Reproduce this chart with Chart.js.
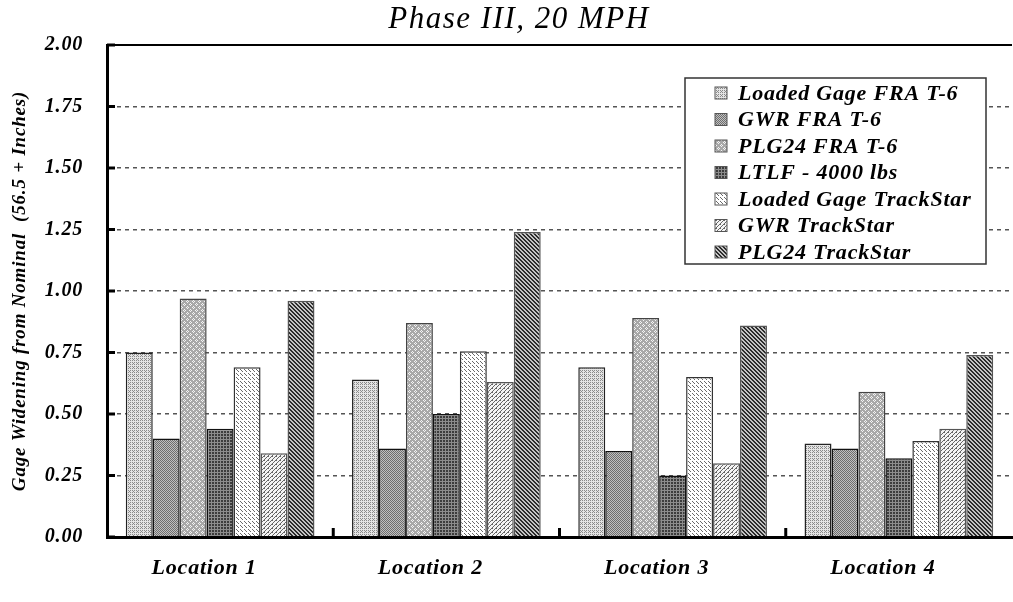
<!DOCTYPE html>
<html>
<head>
<meta charset="utf-8">
<title>Phase III, 20 MPH</title>
<script src="https://cdn.jsdelivr.net/npm/chart.js@4/dist/chart.umd.min.js"></script>
<style>
  html, body { margin: 0; padding: 0; background: #fff; }
  canvas { display: block; }
</style>
</head>
<body>
<canvas id="chart" width="1013" height="602"></canvas>
<script>
// gage widening (inches over 56.5 nominal) per test location
const categories = ['Location 1', 'Location 2', 'Location 3', 'Location 4'];
const loadedGageFRA = [0.75, 0.64, 0.69, 0.38];
const gwrFRA = [0.40, 0.36, 0.35, 0.36];
const plg24FRA = [0.97, 0.87, 0.89, 0.59];
const ltlf4000 = [0.44, 0.50, 0.25, 0.32];
const loadedGageTrackStar = [0.69, 0.755, 0.65, 0.39];
const gwrTrackStar = [0.34, 0.63, 0.30, 0.44];
const plg24TrackStar = [0.96, 1.24, 0.86, 0.74];
const seriesNames = [
  'Loaded Gage FRA T-6', 'GWR FRA T-6', 'PLG24 FRA T-6', 'LTLF - 4000 lbs',
  'Loaded Gage TrackStar', 'GWR TrackStar', 'PLG24 TrackStar'
];
const yTicks = [0, 0.25, 0.5, 0.75, 1, 1.25, 1.5, 1.75, 2];

const canvas = document.getElementById('chart');
const ctx = canvas.getContext('2d');
const SERIF = '"Liberation Serif", "Times New Roman", serif';

// small pixel tiles used as bar fills
function tile(size, bg, pixels, color) {
  const c = document.createElement('canvas');
  c.width = size; c.height = size;
  const g = c.getContext('2d');
  g.fillStyle = bg;
  g.fillRect(0, 0, size, size);
  g.fillStyle = color;
  pixels.forEach(([x, y]) => g.fillRect(x, y, 1, 1));
  return ctx.createPattern(c, 'repeat');
}

const fills = [
  // fine dots, light
  tile(4, '#e4e4e4', [[0, 0], [2, 0], [0, 2], [2, 2], [1, 3]], '#8a8a8a'),
  // checker, medium grey
  tile(2, '#c0c0c0', [[0, 0], [1, 1]], '#6e6e6e'),
  // grey with little white crosses
  tile(6, '#a8a8a8', [[1, 0], [0, 1], [2, 1], [1, 2], [4, 3], [3, 4], [5, 4], [4, 5]], '#f4f4f4'),
  // dark grid
  tile(3, '#3c3c3c', [[1, 0], [1, 1], [1, 2], [0, 1], [2, 1]], '#8c8c8c'),
  // short backslash dashes on white
  tile(4, '#ffffff', [[0, 1], [1, 2], [2, 3]], '#6a6a6a'),
  // thin forward diagonals
  tile(4, '#f4f4f4', [[3, 0], [2, 1], [1, 2], [0, 3], [0, 0]], '#666666'),
  // dense backslash diagonals
  tile(4, '#c4c4c4', [[0, 0], [1, 0], [1, 1], [2, 1], [2, 2], [3, 2], [3, 3], [0, 3]], '#2c2c2c')
];
const edges = ['#222', '#111', '#444', '#111', '#333', '#555', '#555'];

const values = [loadedGageFRA, gwrFRA, plg24FRA, ltlf4000, loadedGageTrackStar, gwrTrackStar, plg24TrackStar];

const datasets = values.map((data, i) => ({
  label: seriesNames[i],
  data: data,
  backgroundColor: fills[i],
  borderColor: edges[i],
  borderWidth: 1.5,
  borderSkipped: 'bottom',
  categoryPercentage: 0.834,
  barPercentage: 1.0
}));

// wide-set lettering for all axis text
const spacing = {
  id: 'spacing',
  beforeDraw(chart) { chart.ctx.letterSpacing = '0.8px'; }
};

// title, frame, inward ticks and boxed legend
const decorations = {
  id: 'decorations',
  afterDraw(chart) {
    const c = chart.ctx;
    const area = chart.chartArea;
    const xs = chart.scales.x;
    const ys = chart.scales.y;
    c.save();

    c.fillStyle = '#000';
    c.letterSpacing = '1.5px';
    c.font = 'italic 31px ' + SERIF;
    c.textAlign = 'center';
    c.textBaseline = 'middle';
    c.fillText('Phase III, 20 MPH', 519, 20);

    c.strokeStyle = '#000';
    c.lineWidth = 2;
    c.beginPath();
    c.moveTo(area.left, area.top);
    c.lineTo(area.right, area.top);
    c.stroke();

    c.lineWidth = 3;
    yTicks.forEach(v => {
      const y = ys.getPixelForValue(v);
      c.beginPath();
      c.moveTo(area.left, y);
      c.lineTo(area.left + 8, y);
      c.stroke();
    });
    for (let i = 1; i < categories.length; i++) {
      const x = (xs.getPixelForTick(i - 1) + xs.getPixelForTick(i)) / 2;
      c.beginPath();
      c.moveTo(x, area.bottom);
      c.lineTo(x, area.bottom - 9);
      c.stroke();
    }

    // legend box
    const bx = area.right - 327, by = area.top + 33, bw = 301, bh = 186;
    c.fillStyle = '#fff';
    c.fillRect(bx, by, bw, bh);
    c.strokeStyle = '#333';
    c.lineWidth = 1.5;
    c.strokeRect(bx, by, bw, bh);
    c.letterSpacing = '0.8px';
    c.font = 'bold italic 22px ' + SERIF;
    c.textAlign = 'left';
    c.textBaseline = 'middle';
    chart.data.datasets.forEach((ds, i) => {
      const cy = by + 15 + i * 26.5;
      c.fillStyle = ds.backgroundColor;
      c.fillRect(bx + 30, cy - 6, 12, 12);
      c.strokeStyle = '#555';
      c.lineWidth = 1;
      c.strokeRect(bx + 30, cy - 6, 12, 12);
      c.fillStyle = '#000';
      c.fillText(ds.label, bx + 53, cy + 1);
    });
    c.restore();
  }
};

new Chart(canvas, {
  type: 'bar',
  data: { labels: categories, datasets: datasets },
  plugins: [spacing, decorations],
  options: {
    responsive: false,
    animation: false,
    layout: { padding: { top: 45, right: 1, left: 0, bottom: 0 } },
    plugins: {
      legend: { display: false },
      title: { display: false },
      tooltip: { enabled: false }
    },
    scales: {
      x: {
        afterFit: s => { s.height = 65; },
        grid: { display: false, drawTicks: false },
        border: { display: true, color: '#000', width: 3, z: 1 },
        ticks: {
          color: '#000',
          font: { family: SERIF, size: 22, style: 'italic', weight: 'bold' },
          padding: 18,
          labelOffset: -16
        }
      },
      y: {
        min: 0,
        max: 2,
        afterFit: s => { s.width = 107; },
        afterBuildTicks: s => { s.ticks = yTicks.map(v => ({ value: v })); },
        grid: {
          drawTicks: false,
          color: c => (c.tick && (c.tick.value === 0 || c.tick.value === 2)) ? 'rgba(0,0,0,0)' : '#555',
          lineWidth: 1.5
        },
        border: { display: true, color: '#000', width: 3, dash: [4, 4], z: 1 },
        ticks: {
          color: '#000',
          font: { family: SERIF, size: 20, style: 'italic', weight: 'bold' },
          padding: 24,
          callback: v => v.toFixed(2)
        },
        title: {
          display: true,
          text: 'Gage Widening from Nominal  (56.5 + Inches)',
          color: '#000',
          font: { family: SERIF, size: 19, style: 'italic', weight: 'bold' },
          padding: { top: 9, bottom: 0 }
        }
      }
    }
  }
});
</script>
</body>
</html>
